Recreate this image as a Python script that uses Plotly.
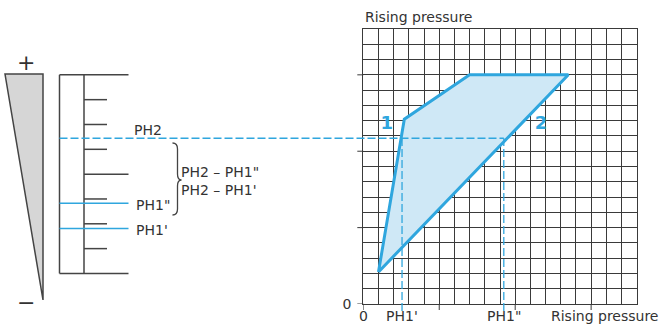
import plotly.graph_objects as go

# ---------------- data ----------------
# envelope of the switching diagram (grid cells: rising pressure vs rising pressure)
envelope_x = [1.0, 2.7, 7.0, 13.5, 1.0]
envelope_y = [2.1, 12.1, 15.0, 15.0, 2.1]
curve_labels = ["1", "2"]
curve_label_x = [1.55, 11.7]
curve_label_y = [11.75, 11.75]

# pressure levels (grid cells on vertical axis)
ph2_level = 10.85
ph1pp_level = 6.6
ph1p_level = 4.95
# switching points on horizontal axis
ph1p_x = 2.55
ph1pp_x = 9.25

# left scale graduations (grid cells)
scale_levels = [2.0, 3.625, 5.25, 6.875, 8.5, 10.125, 11.75, 13.375, 15.0]
scale_kinds = ["end", "short", "short", "short", "long", "short", "short", "short", "end"]

axis_ticks = [0, 5, 10, 15]
grid_lines = list(range(0, 19))
grid_text_y = ["0"] + [""] * 18
grid_text_x = [""] * 19
grid_max = 18

# ---------------- styling ----------------
W, H = 662, 325
FIG_H = 333
BLUE = "#2fa6de"
FILL = "#cfe8f6"
DARK = "#3a3a3a"
TXT = "#333333"
FONT = "DejaVu Sans"
FS = 14

def px(x):
    return x / W

def py(y):
    return 1 - y / H

X0, X1 = 363.3, 636.7   # grid left/right in pixels
Y0, Y1 = 304.0, 29.0    # grid bottom/top in pixels
GW, GH = X1 - X0, Y0 - Y1

fig = go.Figure()

fig.add_trace(go.Scatter(
    x=envelope_x, y=envelope_y, mode="lines", fill="toself",
    fillcolor=FILL, line=dict(color=BLUE, width=3), hoverinfo="skip"))

fig.add_trace(go.Scatter(
    x=curve_label_x, y=curve_label_y, mode="text", text=curve_labels,
    textfont=dict(family=FONT, size=18, color=BLUE, weight="bold"),
    cliponaxis=False, hoverinfo="skip"))

shapes = []
annotations = []

# ---- outside axis ticks every 5 cells ----
for t in axis_ticks:
    shapes.append(dict(type="line", xref="x", yref="y domain", x0=t, x1=t,
                       y0=0, y1=-6 / GH, line=dict(color=DARK, width=1)))
    shapes.append(dict(type="line", xref="x domain", yref="y", x0=0, x1=-6 / GW,
                       y0=t, y1=t, line=dict(color=DARK, width=1)))

# ---- left wedge ----
tri = [(5, 74), (43, 74), (43, 300)]
path = "M {} {} L {} {} L {} {} Z".format(
    *[v for p in tri for v in (px(p[0]), py(p[1]))])
shapes.append(dict(type="path", path=path, xref="paper", yref="paper",
                   fillcolor="#d6d6d6", line=dict(color="#444", width=1.5)))

def txt(text, x, y, xanchor="left", xref="paper", yref="paper", size=FS, color=TXT):
    annotations.append(dict(text=text, x=x, y=y, xref=xref, yref=yref,
                            xanchor=xanchor, yanchor="middle", showarrow=False,
                            borderpad=0,
                            font=dict(family=FONT, size=size, color=color)))

txt("+", px(26), py(63), xanchor="center", size=22)
txt("\u2212", px(26), py(302), xanchor="center", size=22)

# ---- left scale ----
SL, SI, SS, SR = 59.5, 84.0, 107.0, 128.5
for xv in (SL, SI):
    shapes.append(dict(type="line", xref="paper", yref="y", x0=px(xv), x1=px(xv),
                       y0=scale_levels[0], y1=scale_levels[-1],
                       line=dict(color="#444", width=1.5)))
for lvl, kind in zip(scale_levels, scale_kinds):
    x0 = SL if kind == "end" else SI
    x1 = SS if kind == "short" else SR
    shapes.append(dict(type="line", xref="paper", yref="y", x0=px(x0), x1=px(x1),
                       y0=lvl, y1=lvl, line=dict(color="#444", width=1.5)))

# PH levels on the scale
for lvl in (ph1pp_level, ph1p_level):
    shapes.append(dict(type="line", xref="paper", yref="y", x0=px(SL), x1=px(SR),
                       y0=lvl, y1=lvl, line=dict(color=BLUE, width=1.5)))

# PH2 dashed line from scale to curve 2
shapes.append(dict(type="line", xref="x domain", yref="y",
                   x0=(SL - X0) / GW, x1=ph1pp_x / grid_max,
                   y0=ph2_level, y1=ph2_level,
                   line=dict(color=BLUE, width=1.3, dash="8px,3px")))
# vertical dashed drop lines
for xv in (ph1p_x, ph1pp_x):
    shapes.append(dict(type="line", xref="x", yref="y domain", x0=xv, x1=xv,
                       y0=-7 / GH, y1=ph2_level / grid_max,
                       line=dict(color=BLUE, width=1.3, dash="8px,3px")))

# brace
bx, bt, bm, bb = 177.5, 143.0, 180.0, 215.0
bpts = [(172.5, bt), (bx, bt), (bx, bt + 6), (bx, bm - 6), (bx, bm), (181.5, bm),
        (bx, bm), (bx, bm + 6), (bx, bb - 6), (bx, bb), (172.5, bb)]
c = [(px(a), py(b)) for a, b in bpts]
bpath = ("M {} {} Q {} {} {} {} L {} {} Q {} {} {} {} Q {} {} {} {} L {} {} Q {} {} {} {}"
         .format(c[0][0], c[0][1], c[1][0], c[1][1], c[2][0], c[2][1],
                 c[3][0], c[3][1], c[4][0], c[4][1], c[5][0], c[5][1],
                 c[6][0], c[6][1], c[7][0], c[7][1], c[8][0], c[8][1],
                 c[9][0], c[9][1], c[10][0], c[10][1]))
shapes.append(dict(type="path", path=bpath, xref="paper", yref="paper",
                   line=dict(color="#444", width=1.3)))

txt("PH2", px(133), py(130))
txt("PH1\"", px(135), py(205))
txt("PH1'", px(135), py(230))
txt("PH2 \u2013 PH1\"", px(180), py(172))
txt("PH2 \u2013 PH1'", px(180), py(190))

txt("Rising pressure", px(364), py(17))
txt("0", axis_ticks[0], py(316), xanchor="center", xref="x")
txt("PH1'", ph1p_x, py(316), xanchor="center", xref="x")
txt("PH1\"", ph1pp_x, py(316), xanchor="center", xref="x")
txt("Rising pressure", px(550), py(316))

axis_common = dict(
    range=[0, grid_max], showgrid=True, gridcolor=DARK, gridwidth=1,
    zeroline=False, showline=True, mirror=True, linecolor=DARK, linewidth=1,
    tickmode="array", tickvals=grid_lines, ticks="",
    tickfont=dict(family=FONT, size=FS, color=TXT),
    fixedrange=True,
)

fig.update_layout(
    width=W, height=FIG_H, margin=dict(l=0, r=0, t=0, b=0),
    paper_bgcolor="white", plot_bgcolor="white", showlegend=False,
    xaxis=dict(domain=[px(X0), px(X1)], ticktext=grid_text_x, **axis_common),
    yaxis=dict(domain=[py(Y0), py(Y1)], ticktext=grid_text_y,
               ticklabelstandoff=8, **axis_common),
    shapes=shapes, annotations=annotations,
)

fig.write_html(
    "out.html",
    config={"displayModeBar": False, "responsive": False},
    post_script=(
        "document.documentElement.style.margin='0';"
        "document.documentElement.style.overflow='hidden';"
        "document.body.style.margin='0';document.body.style.overflow='hidden';"
        "var d=document.getElementById('{plot_id}');"
        "d.style.position='fixed';d.style.left='0px';d.style.top='0px';"
    ),
)
